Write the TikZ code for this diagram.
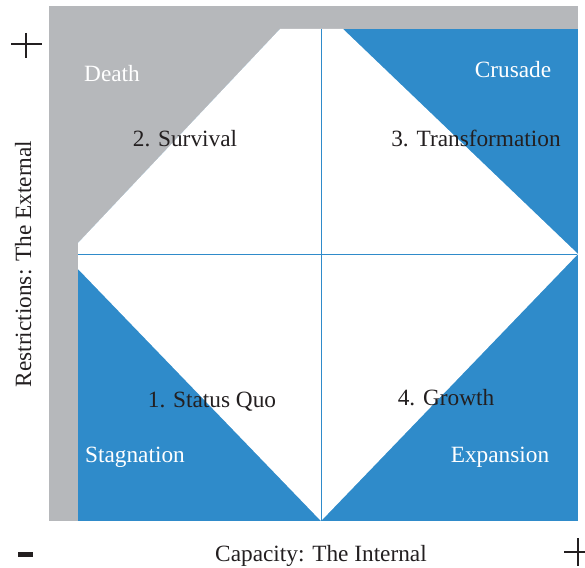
\documentclass[tikz,border=0pt]{standalone}
\usepackage{fontspec}
\setmainfont{Liberation Serif}
\definecolor{greyzone}{HTML}{B6B8BB}
\definecolor{bluezone}{HTML}{2F8BCA}
\definecolor{ink}{HTML}{231F20}
\begin{document}
\begin{tikzpicture}[x=1pt,y=-1pt,
    phase/.style={text=ink,font=\fontsize{23.3}{28}\selectfont,anchor=base,inner sep=0pt},
    zone/.style={phase,text=white},
    axis/.style={draw=bluezone,line width=1pt},
    sign/.style={draw=ink,line width=1.4pt}]
    \useasboundingbox (0,0) rectangle (585,567);
    % bands and diamond
    \fill[greyzone] (49,6) rectangle (578,521);
    \fill[bluezone] (78,29) rectangle (578,521);
    \fill[greyzone] (78,29) -- (280,29) -- (78,243) -- cycle;
    \fill[white] (280,29) -- (343,29) -- (578,254) -- (321,521)
        -- (78,269) -- (78,243) -- cycle;

    \coordinate (n) at (321,29);
    \coordinate (s) at (321,521);
    \coordinate (w) at (78,254);
    \coordinate (e) at (577,254);
    \draw[axis] (n) -- (s);
    \draw[axis] (w) -- (e);

    \node[zone]  (death)  at (112,82)  {Death};
    \node[zone]  (crus)   at (513,78)  {Crusade};
    \node[phase] (surv)   at (185,146) {2. Survival};
    \node[phase] (trans)  at (476,146) {3. Transformation};
    \node[phase] (quo)    at (212,407) {1. Status Quo};
    \node[phase] (grow)   at (446,405) {4. Growth};
    \node[zone]  (stag)   at (135,462) {Stagnation};
    \node[zone]  (expa)   at (500,462) {Expansion};

    \node[phase] (xlab) at (321,561) {Capacity: The Internal};
    \node[phase,rotate=90] (ylab) at (31,264) {Restrictions: The External};

    % plus and minus ends of the axes
    \draw[sign] (11,44) -- (42,44);
    \draw[sign] (26,33) -- (26,58);
    \draw[sign] (564,552) -- (592,552);
    \draw[sign] (578,538) -- (578,566);
    \fill[ink] (18,552) rectangle (33,557);
\end{tikzpicture}
\end{document}
